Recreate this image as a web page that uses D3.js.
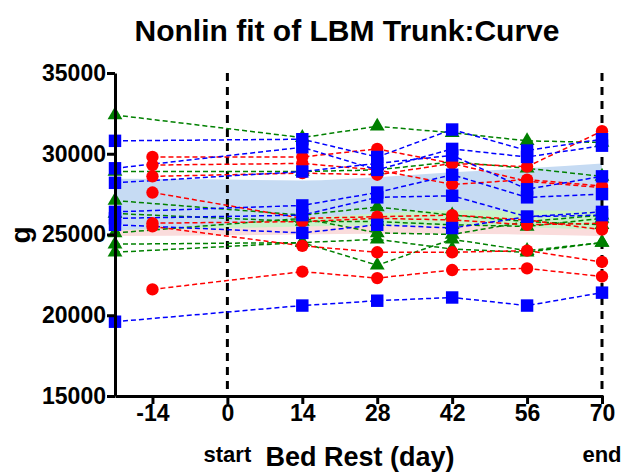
<!DOCTYPE html>
<html lang="en">
<head>
    <meta charset="UTF-8">
    <title>Nonlin fit of LBM Trunk:Curve</title>
    <script src="https://cdn.jsdelivr.net/npm/d3@7"></script>
    <style>
        body { margin: 0; background: #fff; }
        text { font-family: Arial, "Liberation Sans", sans-serif; font-weight: bold; fill: #000; }
    </style>
</head>
<body>
    <svg></svg>
    <script>
        // x ticks (days) and y ticks (g)
        let xTicks = [-14, 0, 14, 28, 42, 56, 70];
        let yTicks = [15000, 20000, 25000, 30000, 35000];

        // measurement days per group
        let redDays = [-14, 14, 28, 42, 56, 70];
        let blueDays = [-21, 14, 28, 42, 56, 70];
        let greenDays = [-21, 14, 28, 42, 56, 70];

        // subjects, one row per person
        let redValues = [
            [29800, 29800, 30300, 29400, 29200, 31400],
            [29300, 29400, 29000, 28100, 28400, 28000],
            [28600, 28800, 28700, 29400, 28300, 27900],
            [27600, 26000, 26100, 26200, 25900, 25300],
            [25700, 25800, 26000, 25900, 25600, 25700],
            [25500, 24300, 23900, 23900, 24000, 23300],
            [21600, 22700, 22300, 22800, 22900, 22400]
        ];
        let blueValues = [
            [30800, 30900, 29800, 31500, 30200, 30900],
            [29100, 30400, 29000, 30300, 29800, 30500],
            [28200, 28900, 29400, 29900, 27800, 28600],
            [26400, 26800, 27600, 28700, 27300, 27500],
            [26000, 26200, 27300, 27400, 26100, 26400],
            [25600, 25100, 25600, 25400, 26100, 26200],
            [19600, 20600, 20900, 21100, 20600, 21400]
        ];
        let greenValues = [
            [32400, 31000, 31700, 31300, 30800, 30700],
            [28900, 28900, 29000, 29500, 29100, 28600],
            [27100, 26200, 26700, 26200, 25800, 26200],
            [26300, 25800, 25800, 25600, 25500, 26000],
            [25100, 26000, 25100, 25000, 25800, 25600],
            [24400, 24500, 23100, 24700, 24000, 24500],
            [23900, 24500, 24700, 24100, 23900, 24500]
        ];

        // confidence bands of the fits
        let bandDays = [-21, 0, 14, 28, 42, 56, 70];
        let blueUpper = [28450, 28400, 28350, 28550, 28850, 29100, 29400];
        let blueLower = [25250, 25650, 26000, 26300, 26500, 26500, 26400];
        let greenUpper = [26200, 26250, 26350, 26450, 26500, 26550, 26600];
        let greenLower = [25300, 25400, 25500, 25550, 25550, 25450, 25300];
        let redUpper = [25800, 25800, 25850, 25900, 25900, 25900, 25950];
        let redLower = [24900, 24950, 25000, 25050, 25050, 25000, 24900];

        let svgWidth = 624, svgHeight = 472;
        let svg = d3.select('svg')
            .attr("width", svgWidth)
            .attr("height", svgHeight);

        let x = d3.scaleLinear().domain([-21, 70]).range([115, 602]);
        let y = d3.scaleLinear().domain([15000, 35000]).range([396, 73]);

        // bands
        function band(upper, lower, color) {
            let area = d3.area()
                .curve(d3.curveMonotoneX)
                .x((d, i) => x(bandDays[i]))
                .y0((d, i) => y(lower[i]))
                .y1(d => y(d));
            svg.append("path").attr("d", area(upper)).attr("fill", color);
        }
        band(redUpper, redLower, "#fadcdc");
        band(greenUpper, greenLower, "#c8f2c8");
        band(blueUpper, blueLower, "#c6dbf3");

        // dashed reference lines at start / end
        [0, 70].forEach(d => {
            svg.append("line")
                .attr("x1", x(d)).attr("x2", x(d))
                .attr("y1", y(35000)).attr("y2", y(15000))
                .attr("stroke", "#000").attr("stroke-width", 3)
                .attr("stroke-dasharray", "8,6");
        });

        // subject lines
        let groups = [
            {days: greenDays, rows: greenValues, color: "#008000", shape: d3.symbolTriangle, size: 95},
            {days: redDays, rows: redValues, color: "#ff0000", shape: d3.symbolCircle, size: 120},
            {days: blueDays, rows: blueValues, color: "#0000ff", shape: d3.symbolSquare, size: 155}
        ];
        groups.forEach(g => {
            let line = d3.line().x((d, i) => x(g.days[i])).y(d => y(d));
            svg.append("g").selectAll("path")
                .data(g.rows)
                .enter()
                .append("path")
                .attr("d", line)
                .attr("fill", "none")
                .attr("stroke", g.color)
                .attr("stroke-width", 1.5)
                .attr("stroke-dasharray", "5,3");
        });
        groups.forEach(g => {
            let pts = [];
            g.rows.forEach(r => r.forEach((v, i) => pts.push([g.days[i], v])));
            svg.append("g").selectAll("path")
                .data(pts)
                .enter()
                .append("path")
                .attr("d", d3.symbol().type(g.shape).size(g.size))
                .attr("transform", d => "translate(" + x(d[0]) + "," + y(d[1]) + ")")
                .attr("fill", g.color);
        });

        // axes
        let xAxis = svg.append("g")
            .attr("transform", "translate(0," + y(15000) + ")")
            .call(d3.axisBottom(x).tickValues(xTicks).tickFormat(d3.format("d"))
                .tickSize(8).tickPadding(1).tickSizeOuter(0));
        let yAxis = svg.append("g")
            .attr("transform", "translate(" + x(-21) + ",0)")
            .call(d3.axisLeft(y).tickValues(yTicks).tickFormat(d3.format("d"))
                .tickSize(8).tickPadding(1).tickSizeOuter(0));
        [xAxis, yAxis].forEach(a => {
            a.select(".domain").attr("stroke", "#000").attr("stroke-width", 3);
            a.selectAll(".tick line").attr("stroke", "#000").attr("stroke-width", 3);
            a.selectAll(".tick text").style("font-size", "23px").style("font-weight", "bold")
                .attr("font-family", null);
        });
        // hyphen instead of unicode minus
        xAxis.selectAll(".tick text").text(d => String(d));

        // titles
        svg.append("text").attr("x", 347).attr("y", 41).attr("text-anchor", "middle")
            .style("font-size", "30px").text("Nonlin fit of LBM Trunk:Curve");
        svg.append("text").attr("transform", "translate(30,235) rotate(-90)")
            .attr("text-anchor", "middle").style("font-size", "28px").text("g");
        svg.append("text").attr("x", 360).attr("y", 466).attr("text-anchor", "middle")
            .style("font-size", "27px").text("Bed Rest (day)");
        svg.append("text").attr("x", x(0)).attr("y", 462).attr("text-anchor", "middle")
            .style("font-size", "22px").text("start");
        svg.append("text").attr("x", x(70)).attr("y", 462).attr("text-anchor", "middle")
            .style("font-size", "22px").text("end");
    </script>
</body>
</html>
